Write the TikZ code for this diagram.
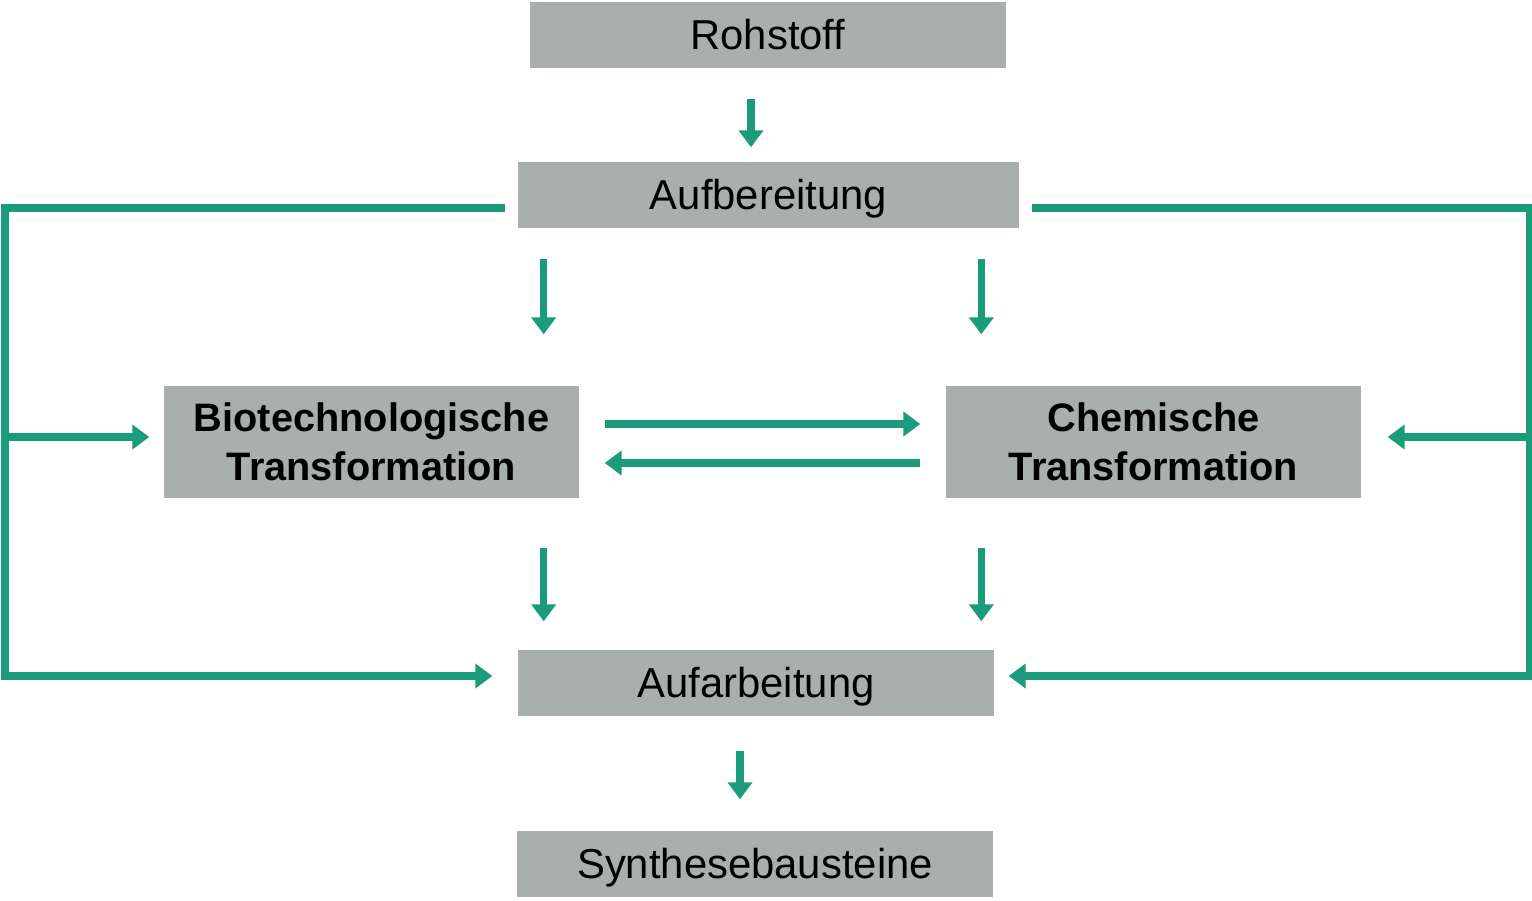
\documentclass[tikz,border=0pt]{standalone}
\usepackage{fontspec}
\setmainfont{Liberation Sans}
\usetikzlibrary{arrows.meta}
\definecolor{flowgreen}{HTML}{1A9C7C}
\definecolor{boxgray}{HTML}{A8AFAD}

\begin{document}
\begin{tikzpicture}[
    stage/.style={fill=boxgray, inner sep=0pt, minimum height=0.66cm, text height=0.80em, text depth=0pt, font=\fontsize{11.9}{14}\selectfont},
    process/.style={fill=boxgray, inner sep=0pt, minimum width=4.15cm, minimum height=1.12cm, align=center, font=\fontsize{11.3}{13.9}\selectfont\bfseries},
    flow/.style={draw=flowgreen, line width=2pt, line join=miter, -{Triangle[length=1.7mm,width=2.4mm]}}]
    \useasboundingbox (0,0) rectangle (15.32,-9);
    % stages
    \node[stage, minimum width=4.76cm] (roh) at (7.68,-0.35) {Rohstoff};
    \node[stage, minimum width=5.01cm] (aufb) at (7.685,-1.95) {Aufbereitung};
    \node[process] (bio) at (3.715,-4.42) {Biotechnologische\\Transformation};
    \node[process] (chem) at (11.535,-4.42) {Chemische\\Transformation};
    \node[stage, minimum width=4.76cm] (aufa) at (7.56,-6.83) {Aufarbeitung};
    \node[stage, minimum width=4.76cm] (syn) at (7.55,-8.64) {Synthesebausteine};
    % side loops
    \coordinate (lmid) at (0.05,-4.37);
    \coordinate (lbot) at (0.05,-6.76);
    \coordinate (rmid) at (15.30,-4.37);
    \coordinate (rbot) at (15.30,-6.76);
    % main line
    \draw[flow, shorten <=3mm, shorten >=1.4mm] ([xshift=-1.7mm]roh.south) -- ([xshift=-1.7mm]roh.south |- aufb.north);
    \draw[flow, shorten <=3mm, shorten >=5.1mm] ([xshift=-3.6mm]bio.north east |- aufb.south) -- ([xshift=-3.6mm]bio.north east);
    \draw[flow, shorten <=3mm, shorten >=5.1mm] ([xshift=3.6mm]chem.north west |- aufb.south) -- ([xshift=3.6mm]chem.north west);
    \draw[flow, shorten <=2.5mm, shorten >=2.5mm] ([yshift=1.8mm]bio.east) -- ([yshift=1.8mm]chem.west);
    \draw[flow, shorten <=2.5mm, shorten >=2.5mm] ([yshift=-2.1mm]chem.west) -- ([yshift=-2.1mm]bio.east);
    \draw[flow, shorten <=4.9mm, shorten >=2.8mm] ([xshift=-3.6mm]bio.south east) -- ([xshift=-3.6mm]bio.south east |- aufa.north);
    \draw[flow, shorten <=4.9mm, shorten >=2.8mm] ([xshift=3.6mm]chem.south west) -- ([xshift=3.6mm]chem.south west |- aufa.north);
    \draw[flow, shorten <=3.4mm, shorten >=3.1mm] ([xshift=-1.6mm]aufa.south) -- ([xshift=-1.6mm]aufa.south |- syn.north);
    % bypass left
    \draw[flow, shorten >=2.5mm] ([xshift=-1.2mm,yshift=-1.3mm]aufb.west) -| (lbot) -- (lbot -| aufa.west);
    \draw[flow, shorten >=1.4mm] (lmid) -- (lmid -| bio.west);
    % bypass right
    \draw[flow, shorten >=1.4mm] ([xshift=1.2mm,yshift=-1.3mm]aufb.east) -| (rbot) -- (rbot -| aufa.east);
    \draw[flow, shorten >=2.6mm] (rmid) -- (rmid -| chem.east);
\end{tikzpicture}
\end{document}
